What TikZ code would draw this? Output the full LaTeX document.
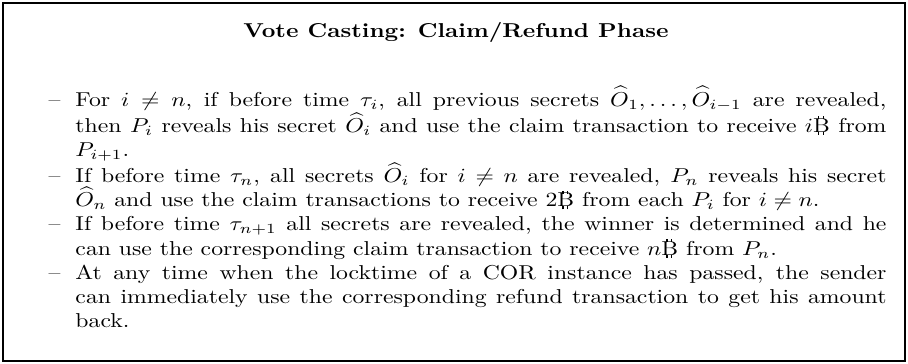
\documentclass[tikz,border=0pt]{standalone}
\usepackage{amsmath,amssymb}

% bitcoin sign: a B with two short bars above and below
\newcommand{\bitcoin}{\mbox{%
  \rlap{\kern0.21em\rule[0.64em]{0.05em}{0.15em}\kern0.15em\rule[0.64em]{0.05em}{0.15em}}%
  \rlap{\kern0.21em\rule[-0.13em]{0.05em}{0.15em}\kern0.15em\rule[-0.13em]{0.05em}{0.15em}}%
  B}}
% one dashed entry of the phase description
\newcommand{\phaseitem}{\hangindent=0.4cm\hangafter=1\noindent\makebox[0.4cm][l]{\textendash}}

\begin{document}
\begin{tikzpicture}
    \tikzstyle{every node}+=[inner sep=0pt, xscale=1.18]
    \useasboundingbox (0,0) rectangle (15.88,-6.366);
    \draw [black, line width=1.2pt] (0.052,-0.052) rectangle (15.83,-6.314);
    \node (title) [anchor=base] at (7.975,-0.65) {\textbf{Vote Casting: Claim/Refund Phase}};
    \node (steps) [anchor=base west, text width=12.42cm, align=justify] at (0.84,-1.854) {%
      \phaseitem For $i\neq n$, if before time $\tau_i$, all previous secrets
      $\widehat{O}_1,\ldots,\widehat{O}_{i-1}$ are revealed,\linebreak
      then $P_i$ reveals his secret $\widehat{O}_i$ and use the claim
      transaction to receive $i$\bitcoin{} from\linebreak
      $P_{i+1}$.\par
      \phaseitem If before time $\tau_n$, all secrets $\widehat{O}_i$ for
      $i\neq n$ are revealed, $P_n$ reveals his secret\linebreak
      $\widehat{O}_n$ and use the claim transactions to receive
      2\bitcoin{} from each $P_i$ for $i\neq n$.\par
      \phaseitem If before time $\tau_{n+1}$ all secrets are revealed, the
      winner is determined and he\linebreak
      can use the corresponding claim transaction to receive $n$\bitcoin{}
      from $P_n$.\par
      \phaseitem At any time when the locktime of a COR instance has passed,
      the sender\linebreak
      can immediately use the corresponding refund transaction to get his
      amount\linebreak
      back.\par};
\end{tikzpicture}
\end{document}
